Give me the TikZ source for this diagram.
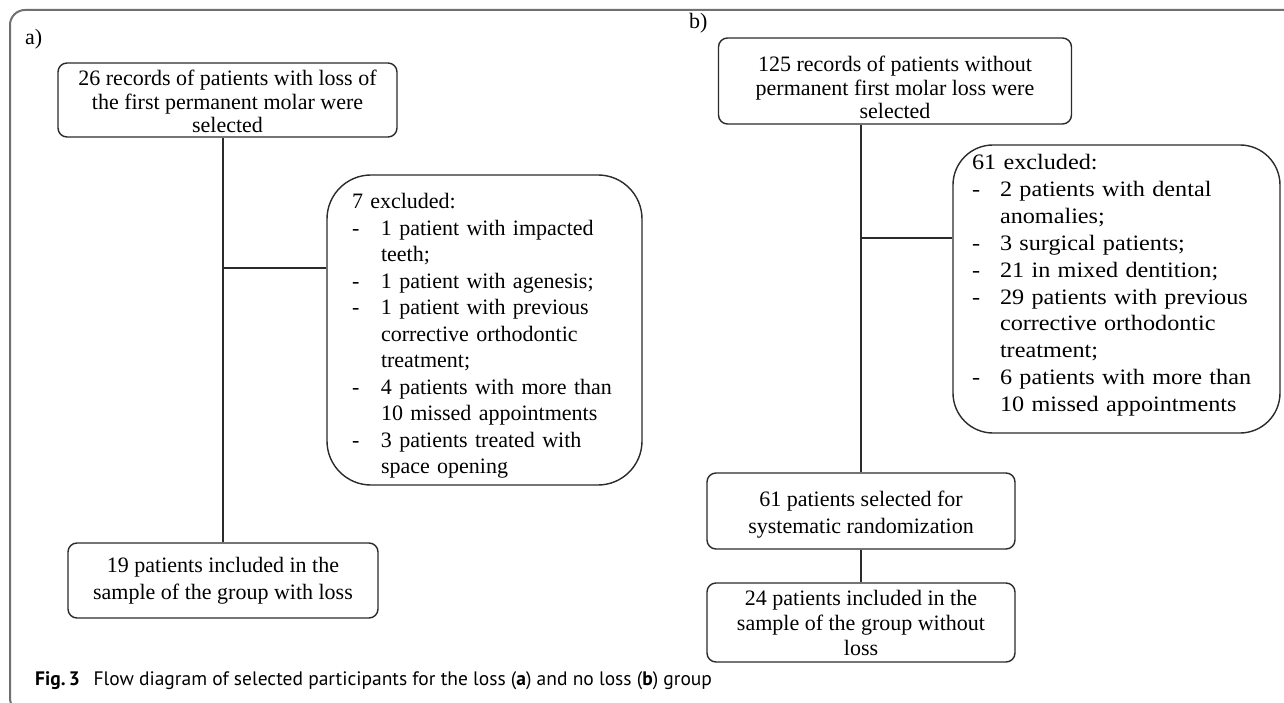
\documentclass[tikz,border=0pt]{standalone}
\usepackage{fontspec}
\setmainfont{Liberation Serif}
\newfontfamily\bwide{Liberation Serif}[FakeStretch=1.1]
\newfontfamily\capfont{PT Sans}
\definecolor{ln}{HTML}{2B2B2B}
\definecolor{frame}{HTML}{707070}
\begin{document}
\begin{tikzpicture}[x=1bp,y=-1bp,
  box/.style={draw=ln,line width=1.4bp,rounded corners=9bp,align=center,inner sep=0pt,
              font=\fontsize{22bp}{23.5bp}\selectfont},
  exbox/.style={draw=ln,line width=1.4bp,align=left,inner ysep=0pt,
              font=\fontsize{22bp}{26.5bp}\selectfont},
  link/.style={draw=ln,line width=1.4bp},
  lbl/.style={font=\fontsize{22bp}{26bp}\selectfont,inner sep=0pt,anchor=base west}]
\useasboundingbox (0,0) rectangle (1284,703);
\fill[white] (0,0) rectangle (1284,703);
% frame
\draw[frame,line width=2bp,rounded corners=15bp] (1300,10) -- (10,10) -- (10,713) -- (40,713);
% labels
\node[lbl] (la) at (25,45) {a)};
\node[lbl] (lb) at (689,29) {b)};
% group a
\node[box,minimum width=339bp,minimum height=74bp] (A1) at (227.5,100)
  {\rule{0pt}{19bp}26 records of patients with loss of\\the first permanent molar were\\selected};
\node[exbox,rounded corners=44bp,minimum width=315bp,minimum height=310bp,
      text width=265bp,inner xsep=25bp] (A2) at (484.5,330)
  {\rule{0pt}{27bp}7 excluded:\\
   \makebox[29bp][l]{-}1 patient with impacted\\
   \hspace*{29bp}teeth;\\
   \makebox[29bp][l]{-}1 patient with agenesis;\\
   \makebox[29bp][l]{-}1 patient with previous\\
   \hspace*{29bp}corrective orthodontic\\
   \hspace*{29bp}treatment;\\
   \makebox[29bp][l]{-}4 patients with more than\\
   \hspace*{29bp}10 missed appointments\\
   \makebox[29bp][l]{-}3 patients treated with\\
   \hspace*{29bp}space opening};
\node[box,minimum width=310bp,minimum height=75bp,font=\fontsize{22bp}{27bp}\selectfont] (A3) at (223,580.5)
  {19 patients included in the\\sample of the group with loss};
\coordinate (Aj) at (224,268);
\draw[link] (A3.north) -- (A3.north |- A1.south);
\draw[link] (Aj) -- (Aj -| A2.west);
% group b
\node[box,minimum width=353bp,minimum height=86bp] (B1) at (895,81)
  {\rule{0pt}{29bp}125 records of patients without\\permanent first molar loss were\\selected};
\node[exbox,rounded corners=40bp,minimum width=327bp,minimum height=288bp,
      text width=289bp,inner xsep=19bp,font=\bwide\fontsize{22bp}{26.9bp}\selectfont] (B2) at (1116.5,289)
  {61 excluded:\\
   \makebox[28bp][l]{-}2 patients with dental\\
   \hspace*{28bp}anomalies;\\
   \makebox[28bp][l]{-}3 surgical patients;\\
   \makebox[28bp][l]{-}21 in mixed dentition;\\
   \makebox[28bp][l]{-}29 patients with previous\\
   \hspace*{28bp}corrective orthodontic\\
   \hspace*{28bp}treatment;\\
   \makebox[28bp][l]{-}6 patients with more than\\
   \hspace*{28bp}10 missed appointments\rule[-12bp]{0pt}{0pt}};
\node[box,minimum width=308bp,minimum height=76bp,font=\fontsize{22bp}{27bp}\selectfont] (B3) at (861,511)
  {\rule{0pt}{23bp}61 patients selected for\\systematic randomization};
\node[box,minimum width=308bp,minimum height=79bp,font=\fontsize{22bp}{25bp}\selectfont] (B4) at (861,622.5)
  {24 patients included in the\\sample of the group without\\loss};
\coordinate (Bj) at (862,238);
\draw[link] (B3.north) -- (B3.north |- B1.south);
\draw[link] (Bj) -- (Bj -| B2.west);
\draw[link] (B3.south) -- (B4.north);
% caption
\node[anchor=base west,inner sep=0pt,font=\capfont\fontsize{19.5bp}{22bp}\selectfont] (cap) at (35,685)
  {\textbf{Fig.\,3}\hspace{0.7em}Flow diagram of selected participants for the loss (\textbf{a}) and no loss (\textbf{b}) group};
\end{tikzpicture}
\end{document}
